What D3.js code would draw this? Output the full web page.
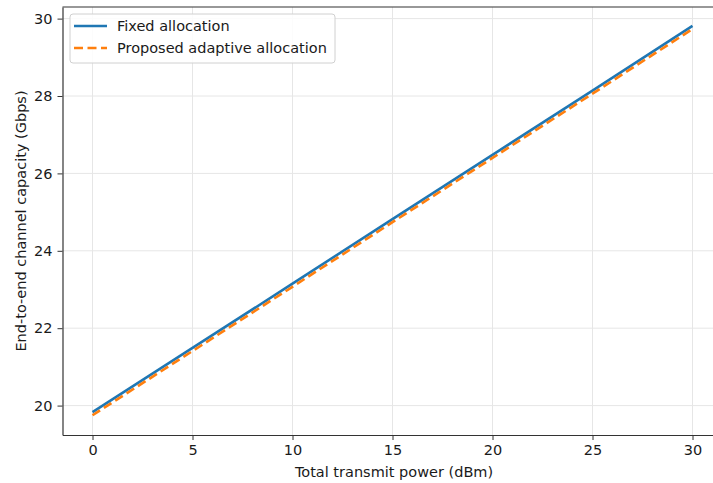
<!DOCTYPE html>
<html>
<head>
<meta charset="utf-8">
<script src="https://cdn.jsdelivr.net/npm/d3@7"></script>
<style>
  body { margin: 0; background: #fff; }
  text { font-family: "DejaVu Sans", sans-serif; fill: #1a1a1a; }
</style>
</head>
<body>
<svg width="713" height="483"></svg>
<script>
'use strict';

// transmit power (dBm)
const power = [0, 5, 10, 15, 20, 25, 30];
// capacity (Gbps)
const fixedCap = [19.83, 21.49, 23.15, 24.82, 26.48, 28.14, 29.81];
const adaptiveCap = [19.75, 21.41, 23.07, 24.74, 26.40, 28.06, 29.73];

const xTicks = [0, 5, 10, 15, 20, 25, 30];
const yTicks = [20, 22, 24, 26, 28, 30];

const seriesNames = ["Fixed allocation", "Proposed adaptive allocation"];

var svg = d3.select("svg");

var plotLeft = 62.5, plotTop = 7, plotBottom = 435, plotRight = 722.5;
var fontSize = "14.5px";

var x = d3.scaleLinear().domain([-1.5, 31.5]).range([plotLeft, plotRight]);
var y = d3.scaleLinear().domain([19.24, 30.30]).range([plotBottom, plotTop]);

// grid
svg.append("g").selectAll("line").data(xTicks).join("line")
  .attr("x1", d => x(d)).attr("x2", d => x(d))
  .attr("y1", plotTop).attr("y2", plotBottom)
  .attr("stroke", "#e6e6e6").attr("stroke-width", 1);
svg.append("g").selectAll("line").data(yTicks).join("line")
  .attr("x1", plotLeft).attr("x2", plotRight)
  .attr("y1", d => y(d)).attr("y2", d => y(d))
  .attr("stroke", "#e6e6e6").attr("stroke-width", 1);

// axes
var xAxis = svg.append("g")
  .attr("transform", "translate(0," + plotBottom + ")")
  .call(d3.axisBottom(x).tickValues(xTicks).tickSize(5).tickPadding(5).tickSizeOuter(0));
var yAxis = svg.append("g")
  .attr("transform", "translate(" + plotLeft + ",0)")
  .call(d3.axisLeft(y).tickValues(yTicks).tickSize(5).tickPadding(5).tickSizeOuter(0));

[xAxis, yAxis].forEach(a => {
  a.selectAll("text").style("font-size", fontSize).attr("fill", "#1a1a1a")
    .style("font-family", "DejaVu Sans, sans-serif");
  a.selectAll("line").attr("stroke", "#333");
  a.select(".domain").attr("stroke", "#333").attr("stroke-width", 1.2);
});

// top spine
svg.append("line")
  .attr("x1", plotLeft).attr("x2", plotRight)
  .attr("y1", plotTop).attr("y2", plotTop)
  .attr("stroke", "#333").attr("stroke-width", 1.2);

// lines
var line = d3.line().x((d, i) => x(power[i])).y(d => y(d));

svg.append("path")
  .datum(fixedCap)
  .attr("d", line)
  .attr("fill", "none")
  .attr("stroke", "#1f77b4")
  .attr("stroke-width", 2.6);

svg.append("path")
  .datum(adaptiveCap)
  .attr("d", line)
  .attr("fill", "none")
  .attr("stroke", "#ff7f0e")
  .attr("stroke-width", 2.6)
  .attr("stroke-dasharray", "9,4.5");

// axis labels
svg.append("text")
  .attr("x", 394).attr("y", 477)
  .attr("text-anchor", "middle")
  .style("font-size", fontSize)
  .text("Total transmit power (dBm)");

svg.append("text")
  .attr("transform", "translate(25.5," + ((plotTop + plotBottom) / 2) + ") rotate(-90)")
  .attr("text-anchor", "middle")
  .style("font-size", fontSize)
  .text("End-to-end channel capacity (Gbps)");

// legend
var legend = svg.append("g");
legend.append("rect")
  .attr("x", 70).attr("y", 14)
  .attr("width", 265).attr("height", 49)
  .attr("rx", 3)
  .attr("fill", "#fff").attr("fill-opacity", 0.85)
  .attr("stroke", "#d0d0d0");

var colors = ["#1f77b4", "#ff7f0e"];
var dashes = [null, "9,4.5"];
seriesNames.forEach((name, i) => {
  var ly = 26 + i * 22;
  legend.append("line")
    .attr("x1", 74).attr("x2", 107)
    .attr("y1", ly).attr("y2", ly)
    .attr("stroke", colors[i]).attr("stroke-width", 2.6)
    .attr("stroke-dasharray", dashes[i]);
  legend.append("text")
    .attr("x", 117).attr("y", ly + 5)
    .style("font-size", fontSize)
    .text(name);
});
</script>
</body>
</html>
